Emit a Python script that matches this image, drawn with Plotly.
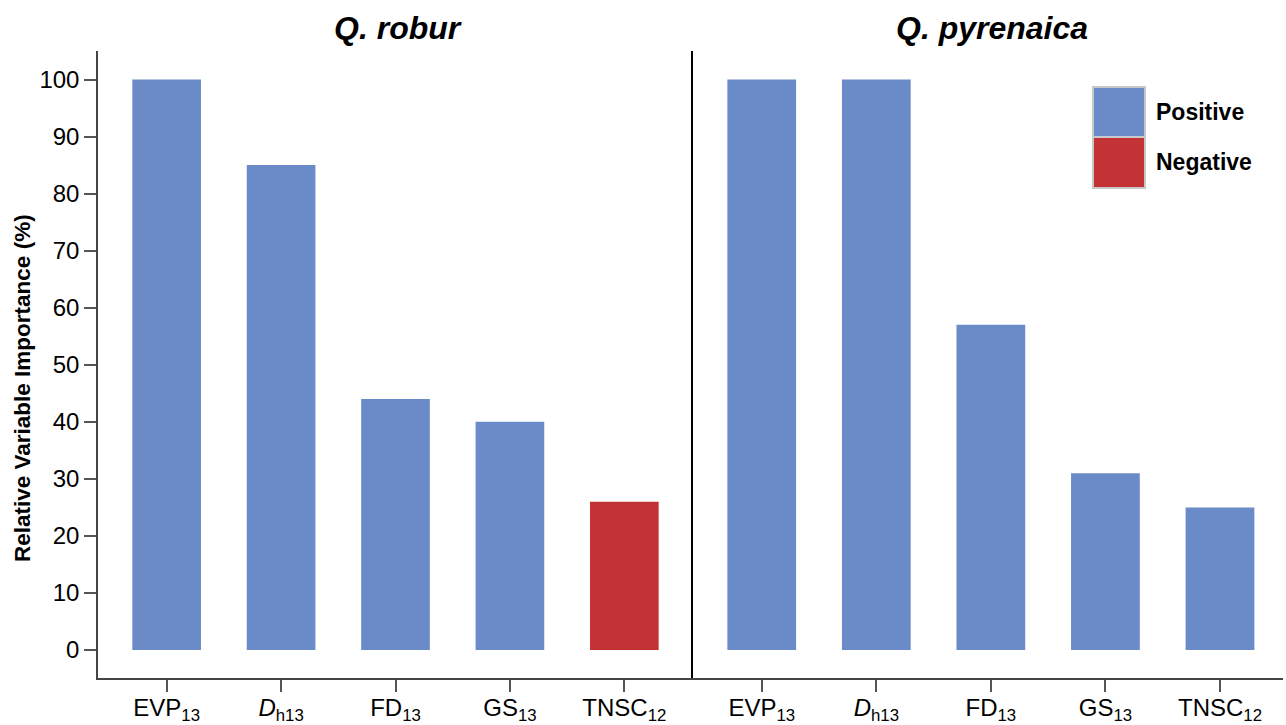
import plotly.graph_objects as go

categories = ["EVP<sub>13</sub>", "<i>D</i><sub>h13</sub>", "FD<sub>13</sub>", "GS<sub>13</sub>", "TNSC<sub>12</sub>"]
robur_values = [100, 85, 44, 40, 26]
robur_sign = ["Positive", "Positive", "Positive", "Positive", "Negative"]
pyrenaica_values = [100, 100, 57, 31, 25]
pyrenaica_sign = ["Positive", "Positive", "Positive", "Positive", "Positive"]
y_ticks = [0, 10, 20, 30, 40, 50, 60, 70, 80, 90, 100]

BLUE = "#6A8BC8"
RED = "#C33234"
colmap = {"Positive": BLUE, "Negative": RED}

W, H = 1286, 725
L, R, T, B = 98, 3, 51, 47
pw = W - L - R
split = (693 - L) / pw

fig = go.Figure()
fig.add_trace(go.Bar(x=categories, y=robur_values, width=0.6,
                     marker=dict(color=[colmap[s] for s in robur_sign], line=dict(width=0)),
                     xaxis="x", yaxis="y", showlegend=False))
fig.add_trace(go.Bar(x=categories, y=pyrenaica_values, width=0.6,
                     marker=dict(color=[colmap[s] for s in pyrenaica_sign], line=dict(width=0)),
                     xaxis="x2", yaxis="y2", showlegend=False))

font = "Liberation Sans, Arial, sans-serif"
axis_common = dict(showline=True, linecolor="#444444", linewidth=1.5, ticks="outside",
                   ticklen=12, tickwidth=1.5, tickcolor="#555555", showgrid=False, zeroline=False,
                   automargin=False, ticklabelstandoff=-5,
                   tickfont=dict(size=24, color="black", family=font))

fig.update_layout(
    width=W, height=H, margin=dict(l=L, r=R, t=T, b=B, autoexpand=False),
    plot_bgcolor="white", paper_bgcolor="white", bargap=0.4,
    xaxis=dict(domain=[0, split], range=[-0.6, 4.6], anchor="y", **axis_common),
    xaxis2=dict(domain=[split, 1], range=[-0.6, 4.55], anchor="y2", **axis_common),
    yaxis=dict(range=[-4.9, 105], anchor="x", tickvals=y_ticks, showline=True, linecolor="#444444",
               linewidth=1.5, ticks="outside", ticklen=12, tickwidth=1.5, tickcolor="#555555",
               showgrid=False, zeroline=False, automargin=False,
               tickfont=dict(size=24, color="black", family=font)),
    yaxis2=dict(range=[-4.9, 105], anchor="x2", showline=True, linecolor="black", linewidth=1.5,
                showticklabels=False, ticks="", showgrid=False, zeroline=False, automargin=False),
    showlegend=False,
)

def px(xp):
    return (xp - L) / pw

def py(yp):
    return (H - B - yp) / (H - T - B)

fig.add_annotation(text="<b>Relative Variable Importance (%)</b>", x=px(22), y=py(388),
                   xref="paper", yref="paper", xanchor="center", yanchor="middle",
                   textangle=-90, showarrow=False,
                   font=dict(size=22.5, color="black", family=font))

fig.add_annotation(text="<b><i>Q. robur</i></b>", x=px(398), y=py(28), xref="paper", yref="paper",
                   xanchor="center", yanchor="middle", showarrow=False,
                   font=dict(size=32, color="black", family=font))
fig.add_annotation(text="<b><i>Q. pyrenaica</i></b>", x=px(992), y=py(28), xref="paper", yref="paper",
                   xanchor="center", yanchor="middle", showarrow=False,
                   font=dict(size=32, color="black", family=font))

for (y0, y1, name) in [(87, 137, "Positive"), (137, 188, "Negative")]:
    fig.add_shape(type="rect", xref="paper", yref="paper", x0=px(1093), x1=px(1145),
                  y0=py(y1), y1=py(y0), fillcolor=colmap[name],
                  line=dict(color="#C8C8C8", width=2))
    fig.add_annotation(text="<b>" + name + "</b>", xref="paper", yref="paper",
                       x=px(1154), y=py((y0 + y1) / 2), xanchor="left", yanchor="middle",
                       showarrow=False, font=dict(size=23, color="black", family=font))

fig.write_html("out.html", config={"displayModeBar": False},
               post_script="document.body.style.margin='0';document.body.style.overflow='hidden';")
